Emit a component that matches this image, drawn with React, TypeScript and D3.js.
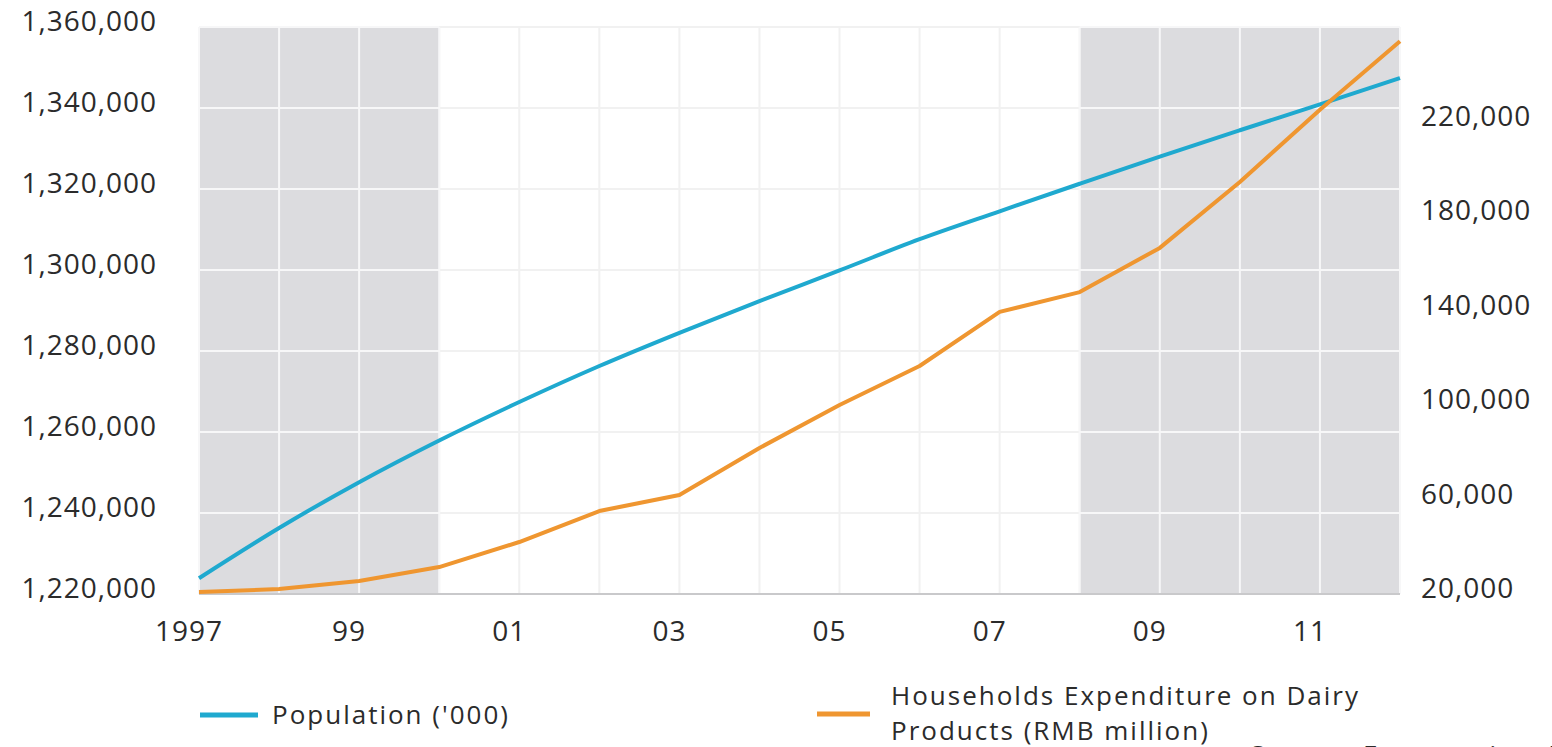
import React from 'react';
import * as d3 from 'd3';

const years = [1997, 1998, 1999, 2000, 2001, 2002, 2003, 2004, 2005, 2006, 2007, 2008, 2009, 2010, 2011, 2012];
const population = [1223900, 1236300, 1247600, 1257900, 1267400, 1276300, 1284500, 1292300, 1299900, 1307600, 1314500, 1321300, 1328000, 1334500, 1340900, 1347400];
const dairyExpenditure = [20800, 22100, 25500, 31400, 42000, 55100, 61900, 81800, 100000, 116500, 139400, 147800, 166500, 194400, 225000, 254000];
const leftTicks = [1220000, 1240000, 1260000, 1280000, 1300000, 1320000, 1340000, 1360000];
const rightTicks = [20000, 60000, 100000, 140000, 180000, 220000];
const xTickYears = [1997, 1999, 2001, 2003, 2005, 2007, 2009, 2011];
const xTickLabels = ['1997', '99', '01', '03', '05', '07', '09', '11'];
const shadedPeriods = [[1997, 2000], [2008, 2012]];

const W = 1552;
const H = 747;
const FONT = "'Open Sans', 'Noto Sans', sans-serif";
const BLUE = '#1fa9cf';
const ORANGE = '#ef9630';
const TEXT = '#2b2b2b';

const App = () => {
  const x = d3.scaleLinear().domain([1997, 2012]).range([199, 1400]);
  const yL = d3.scaleLinear().domain([1220000, 1360000]).range([594, 27]);
  const yR = d3.scaleLinear().domain([20000, 260000]).range([594, 27]);
  const fmt = d3.format(',');

  const popLine = d3.line<number>()
    .x((d, i) => x(years[i]))
    .y(d => yL(d))
    .curve(d3.curveMonotoneX);

  const dairyLine = d3.line<number>()
    .x((d, i) => x(years[i]))
    .y(d => yR(d));

  const [x0, x1] = x.range();
  const [yBottom, yTop] = yL.range();

  // gridline segments, drawn in a given colour inside [xa, xb]
  const grid = (xa: number, xb: number, color: string, key: string) => (
    <g key={key}>
      {years.filter(yr => x(yr) >= xa - 0.5 && x(yr) <= xb + 0.5).map(yr => (
        <line key={yr} x1={x(yr)} x2={x(yr)} y1={yTop} y2={yBottom} stroke={color} strokeWidth={2} />
      ))}
      {leftTicks.slice(1).map(t => (
        <line key={t} x1={xa} x2={xb} y1={yL(t)} y2={yL(t)} stroke={color} strokeWidth={2} />
      ))}
    </g>
  );

  return (
    <div style={{ position: 'absolute', left: 0, top: 0 }}>
      <svg width={W} height={H} style={{ display: 'block', background: '#fff' }}>
        {grid(x0, x1, '#f1f1f1', 'base')}
        {shadedPeriods.map(([a, b], i) => (
          <g key={i}>
            <rect x={x(a)} y={yTop} width={x(b) - x(a)} height={yBottom - yTop} fill="#dcdcdf" />
            {grid(x(a), x(b), '#f7f7f8', 'sh' + i)}
          </g>
        ))}
        <line x1={x0} x2={x1} y1={yBottom} y2={yBottom} stroke="#c9c9cb" strokeWidth={2} />

        <path d={popLine(population) || ''} fill="none" stroke={BLUE} strokeWidth={4} />
        <path d={dairyLine(dairyExpenditure) || ''} fill="none" stroke={ORANGE} strokeWidth={4} strokeLinejoin="round" />

        <g fontFamily={FONT} fontSize={28} fontWeight={500} letterSpacing={1} fill={TEXT}>
          {leftTicks.map(t => (
            <text key={t} x={157} y={yL(t) - 3} textAnchor="end" dominantBaseline="middle">{fmt(t)}</text>
          ))}
          {rightTicks.map(t => (
            <text key={t} x={1421} y={yR(t) - 3} textAnchor="start" dominantBaseline="middle">{fmt(t)}</text>
          ))}
          {xTickYears.map((yr, i) => (
            <text key={yr} x={x(yr) - 10} y={641} textAnchor="middle">{xTickLabels[i]}</text>
          ))}
        </g>

        <g fontFamily={FONT} fontSize={26} fontWeight={500} letterSpacing={2} fill={TEXT}>
          <line x1={200} x2={258} y1={715} y2={715} stroke={BLUE} strokeWidth={5} />
          <text x={272} y={724}>Population ('000)</text>
          <line x1={817} x2={870} y1={714} y2={714} stroke={ORANGE} strokeWidth={5} />
          <text x={891} y={705}>Households Expenditure on Dairy</text>
          <text x={891} y={740}>Products (RMB million)</text>
          <text x={1250} y={764}>Source: Euromonitor International</text>
        </g>
      </svg>
    </div>
  );
};

export default App;
